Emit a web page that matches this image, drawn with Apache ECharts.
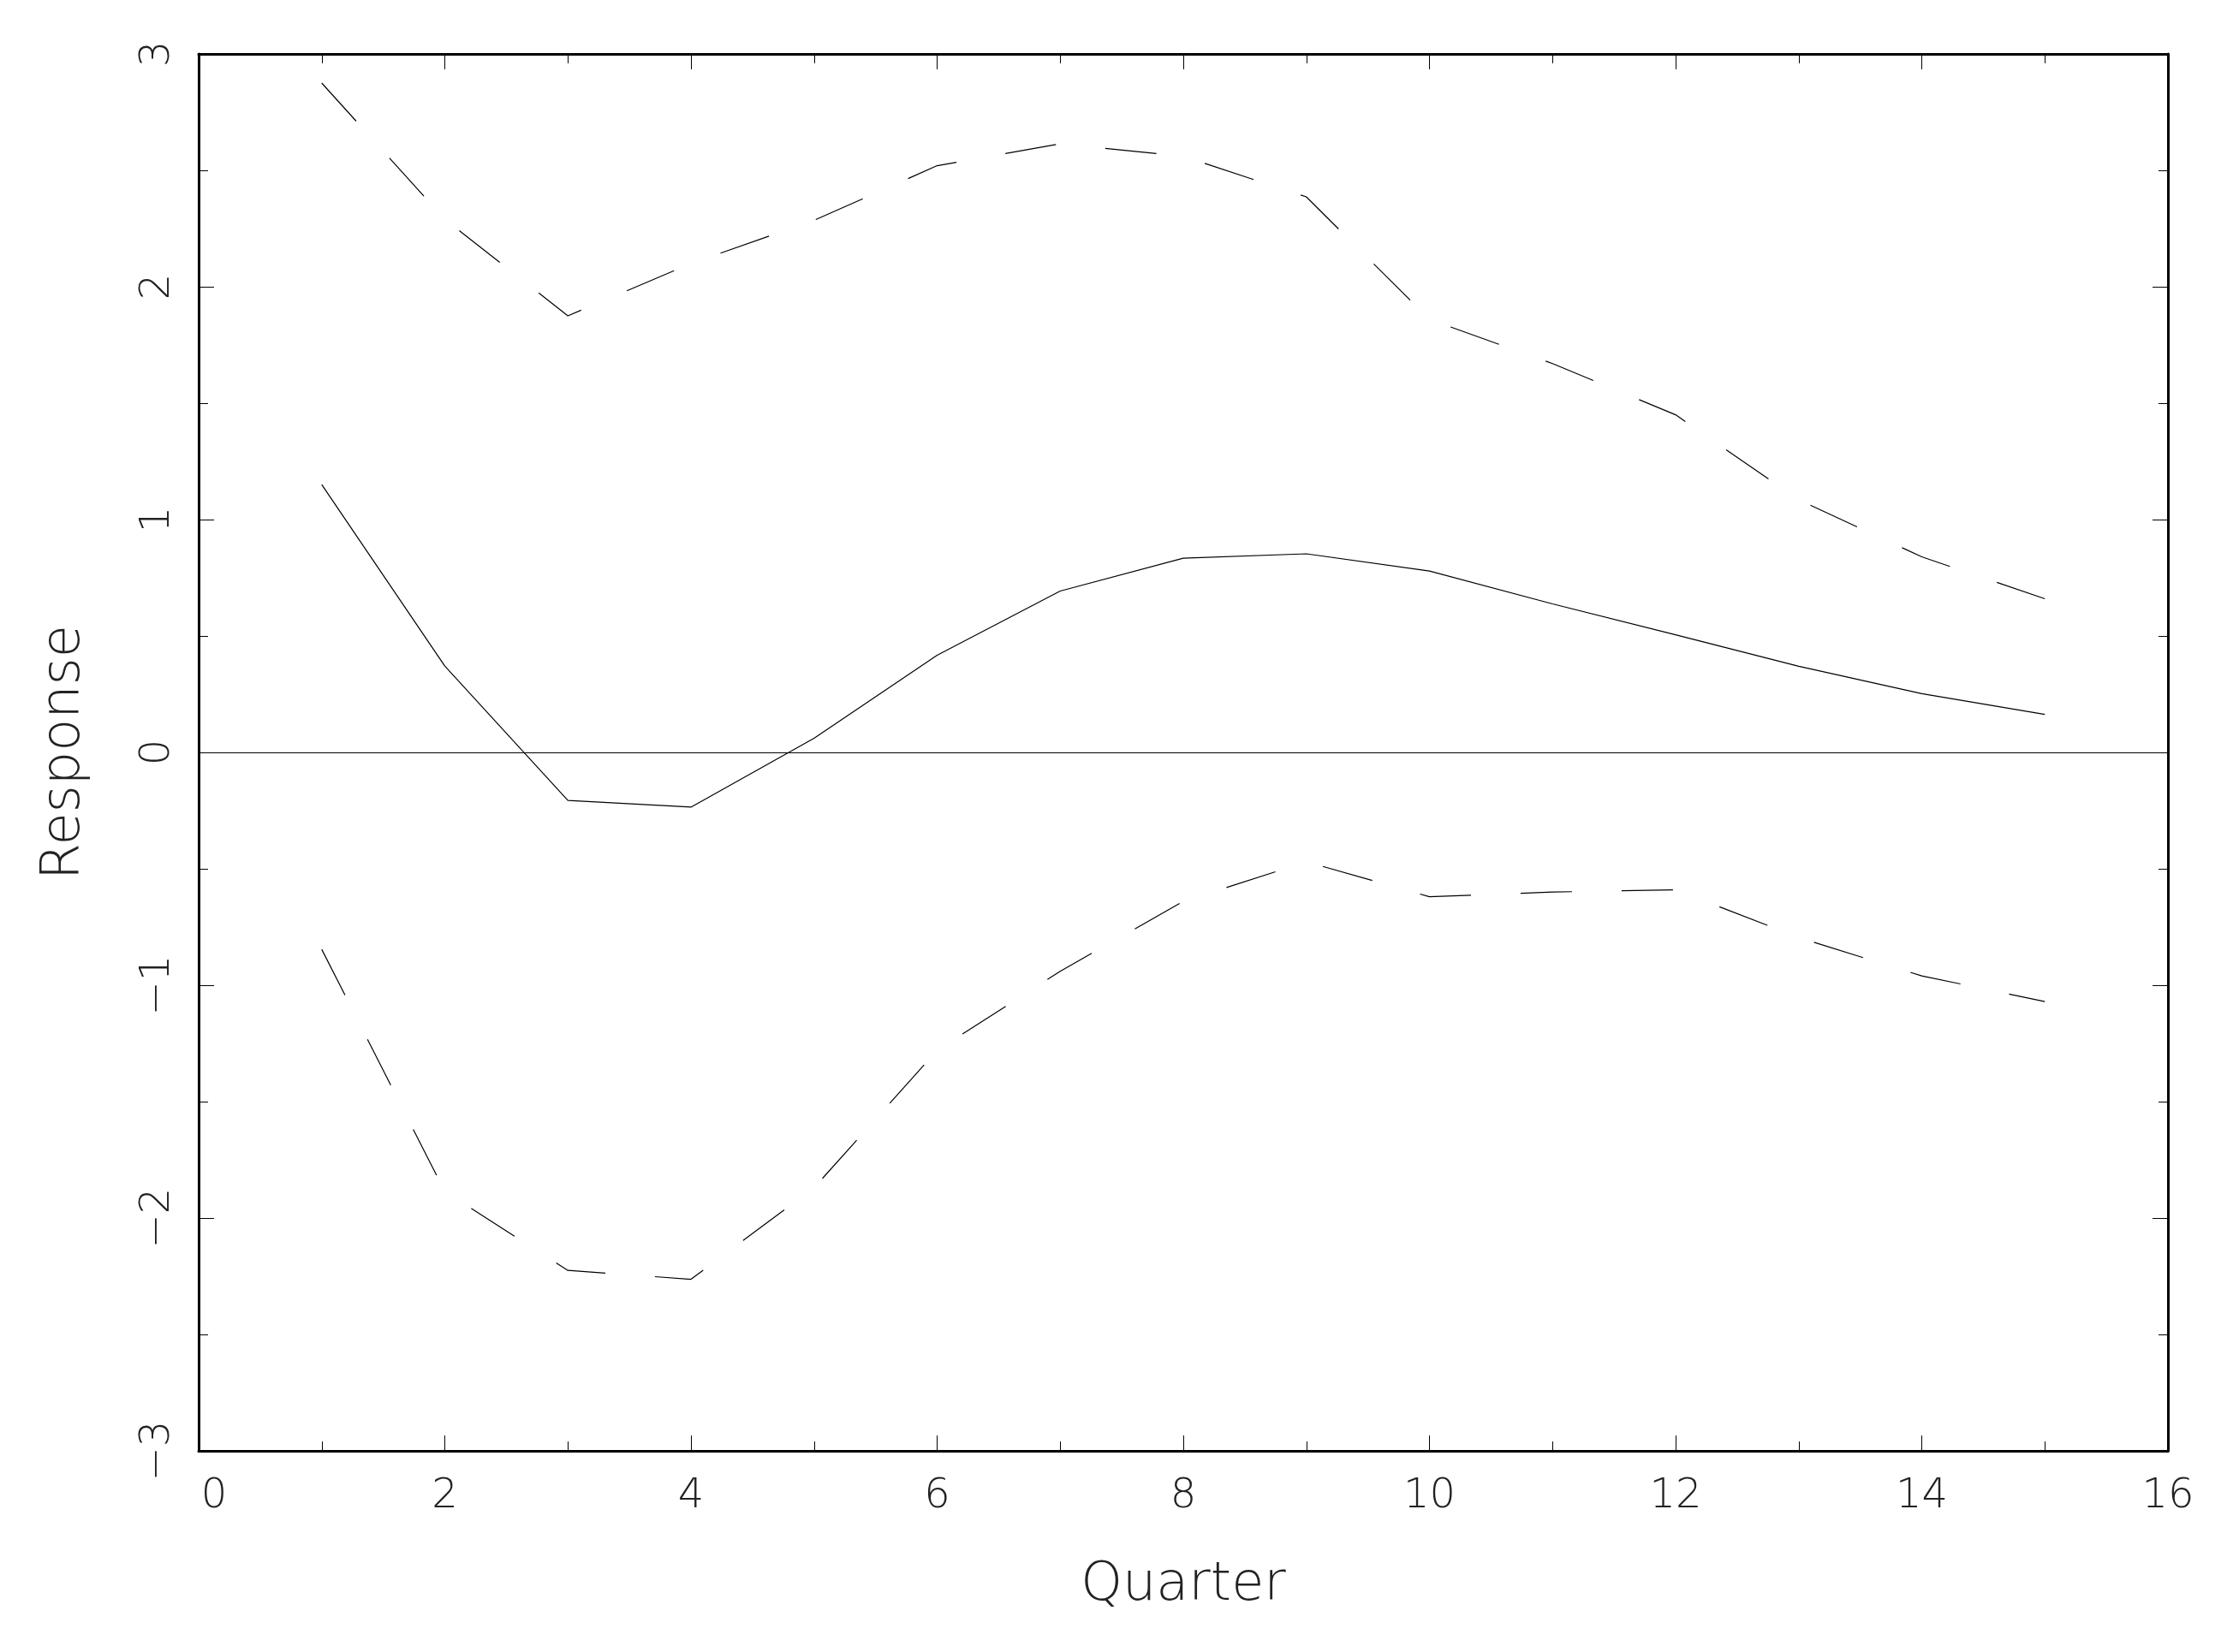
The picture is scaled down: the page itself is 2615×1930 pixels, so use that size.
<!DOCTYPE html>
<html>
<head>
<meta charset="utf-8">
<script src="https://cdn.jsdelivr.net/npm/echarts@6/dist/echarts.min.js"></script>
<style>
html,body{margin:0;padding:0;background:#fff;}
#chart{width:2615px;height:1930px;}
</style>
</head>
<body>
<div id="chart"></div>
<script>
// Data
const quarters = [1, 2, 3, 4, 5, 6, 7, 8, 9, 10, 11, 12, 13, 14, 15];
const response = [1.15, 0.371, -0.206, -0.235, 0.061, 0.417, 0.693, 0.834, 0.853, 0.779, 0.638, 0.505, 0.37, 0.252, 0.163];
const upperBand = [2.875, 2.29, 1.875, 2.10, 2.285, 2.52, 2.614, 2.56, 2.386, 1.86, 1.67, 1.45, 1.085, 0.84, 0.66];
const lowerBand = [-0.846, -1.886, -2.225, -2.263, -1.87, -1.28, -0.94, -0.64, -0.47, -0.62, -0.60, -0.59, -0.795, -0.96, -1.07];
const xTicks = [0, 2, 4, 6, 8, 10, 12, 14, 16];
const yTicks = [-3, -2, -1, 0, 1, 2, 3];
const xTitle = 'Quarter';
const yTitle = 'Response';

const FONT = "'DejaVu Sans', sans-serif";
const pairs = arr => quarters.map((q, i) => [q, arr[i]]);

const tickCommon = {
  axisLine: { show: true, onZero: false, lineStyle: { color: '#000', width: 3 } },
  axisTick: { show: true, inside: true, length: 18, lineStyle: { color: '#000', width: 1 } },
  minorTick: { show: true, splitNumber: 2, length: 11, lineStyle: { color: '#000', width: 1 } },
  splitLine: { show: false },
  minorSplitLine: { show: false }
};

const chart = echarts.init(document.getElementById('chart'), null, { renderer: 'canvas' });
chart.setOption({
  backgroundColor: '#fff',
  animation: false,
  grid: { left: 232, right: 83, top: 63, bottom: 235, containLabel: false },
  xAxis: [
    Object.assign({
      type: 'value', min: xTicks[0], max: xTicks[xTicks.length - 1], interval: 2,
      position: 'bottom',
      name: xTitle, nameLocation: 'middle', nameGap: 158,
      nameTextStyle: { fontFamily: FONT, fontWeight: 200, fontSize: 62, color: '#222', verticalAlign: 'middle' },
      axisLabel: {
        show: true, margin: 54, verticalAlign: 'middle',
        fontFamily: FONT, fontWeight: 200, fontSize: 48, color: '#222',
        formatter: v => v === 0 ? '{z|0}' : String(v),
        rich: { z: { fontFamily: FONT, fontWeight: 200, fontSize: 48, color: '#222', padding: [0, 0, 0, 36] } }
      }
    }, tickCommon),
    Object.assign({
      type: 'value', min: xTicks[0], max: xTicks[xTicks.length - 1], interval: 2,
      position: 'top', axisLabel: { show: false }
    }, tickCommon)
  ],
  yAxis: [
    Object.assign({
      type: 'value', min: yTicks[0], max: yTicks[yTicks.length - 1], interval: 1,
      position: 'left',
      name: yTitle, nameLocation: 'middle', nameGap: 156, nameRotate: 90,
      nameTextStyle: { fontFamily: FONT, fontWeight: 200, fontSize: 62, color: '#222', verticalAlign: 'middle' },
      axisLabel: {
        show: true, rotate: 90, margin: 47, verticalAlign: 'middle', align: 'center',
        fontFamily: FONT, fontWeight: 200, fontSize: 48, color: '#222',
        formatter: v => v < 0 ? '\u2212' + Math.abs(v) : String(v)
      }
    }, tickCommon),
    Object.assign({
      type: 'value', min: yTicks[0], max: yTicks[yTicks.length - 1], interval: 1,
      position: 'right', axisLabel: { show: false }
    }, tickCommon)
  ],
  series: [
    {
      type: 'line', name: 'response', data: pairs(response),
      xAxisIndex: 0, yAxisIndex: 0,
      symbol: 'none', lineStyle: { color: '#000', width: 1.2 },
      markLine: {
        silent: true, symbol: ['none', 'none'], label: { show: false },
        lineStyle: { color: '#000', width: 1.2, type: 'solid' },
        data: [{ yAxis: 0 }]
      }
    },
    {
      type: 'line', name: 'upper', data: pairs(upperBand),
      symbol: 'none', lineStyle: { color: '#000', width: 1.2, type: [60, 58] }
    },
    {
      type: 'line', name: 'lower', data: pairs(lowerBand),
      symbol: 'none', lineStyle: { color: '#000', width: 1.2, type: [60, 58] }
    }
  ]
});
</script>
</body>
</html>
